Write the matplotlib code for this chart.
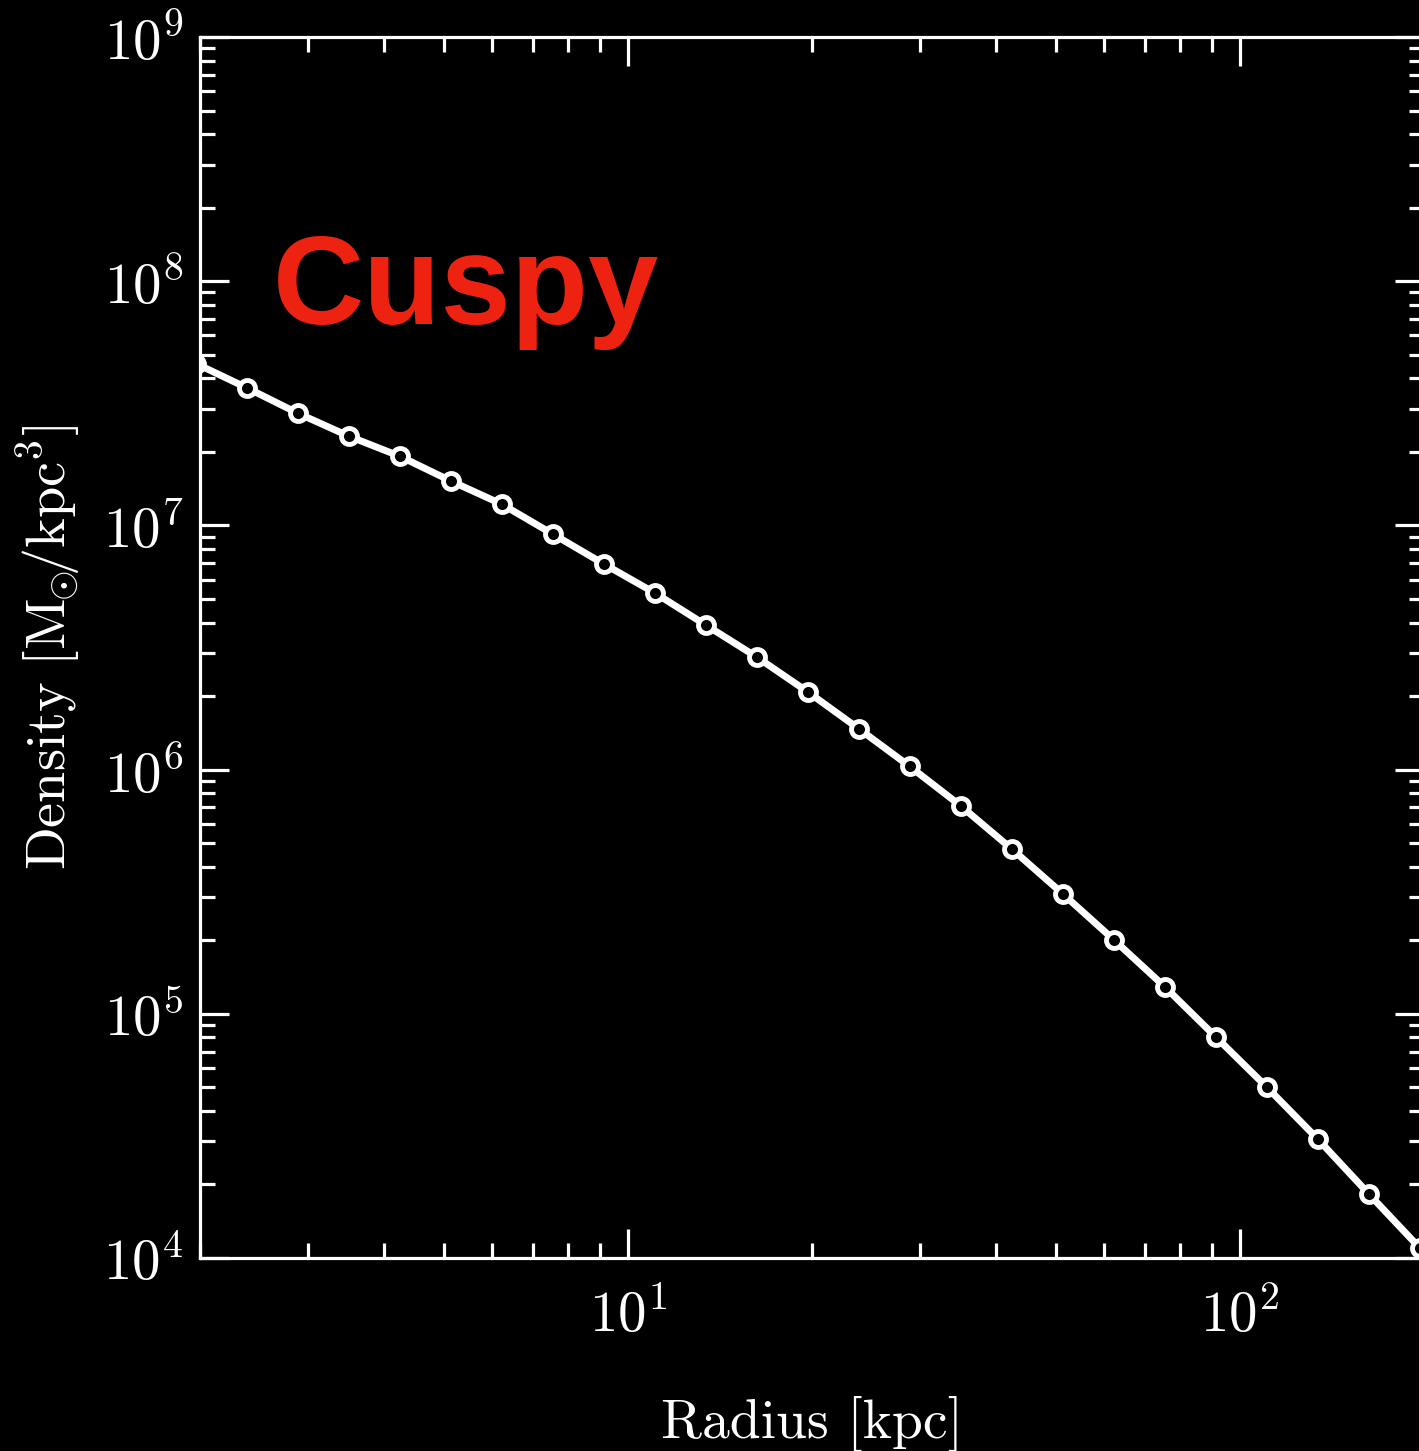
import numpy as np
import matplotlib.pyplot as plt
from matplotlib.ticker import LogLocator, NullFormatter

# perfil de densidad
radio = [1.97, 2.39, 2.89, 3.50, 4.24, 5.14, 6.23, 7.54, 9.14, 11.07, 13.41, 16.25,
         19.69, 23.85, 28.90, 35.01, 42.41, 51.38, 62.25, 75.42, 91.37, 110.7,
         134.1, 162.5, 196.8]
densidad = [4.6e7, 3.65e7, 2.88e7, 2.32e7, 1.92e7, 1.52e7, 1.22e7, 9.22e6, 6.95e6,
            5.29e6, 3.91e6, 2.89e6, 2.08e6, 1.47e6, 1.03e6, 7.10e5, 4.73e5, 3.10e5,
            2.01e5, 1.29e5, 8.04e4, 5.01e4, 3.07e4, 1.83e4, 1.10e4]

xlim = (2, 200)
ylim = (1e4, 1e9)
etiqueta = 'Cuspy'

plt.rcParams['font.family'] = 'serif'
plt.rcParams['font.serif'] = ['cmr10']
plt.rcParams['mathtext.fontset'] = 'cm'
plt.rcParams['axes.formatter.use_mathtext'] = True
plt.rcParams['axes.unicode_minus'] = False

fig = plt.figure(figsize=(14.19, 14.51), dpi=100, facecolor='black')
ax = fig.add_axes([200/1419, 193/1451, 1224/1419, 1221/1451], facecolor='black')

ax.plot(radio, densidad, '-o', color='white', lw=5, ms=11.5,
        mfc='black', mec='white', mew=3.5)

ax.set_xscale('log')
ax.set_yscale('log')
ax.set_xlim(xlim)
ax.set_ylim(ylim)

ax.yaxis.set_major_locator(LogLocator(base=10, numticks=20))
ax.yaxis.set_minor_locator(LogLocator(base=10, subs=np.arange(2, 10), numticks=20))
ax.xaxis.set_minor_formatter(NullFormatter())
ax.yaxis.set_minor_formatter(NullFormatter())

for s in ax.spines.values():
    s.set_color('white')
    s.set_linewidth(2.3)

ax.tick_params(which='both', direction='in', top=True, right=True,
               colors='white', width=2.3)
ax.tick_params(which='major', length=21, labelsize=41)
ax.tick_params(which='minor', length=10.8)
ax.tick_params(axis='x', which='major', pad=22)
ax.tick_params(axis='y', which='major', pad=12)

ax.set_xlabel('Radius [kpc]', fontsize=40, color='white')
ax.set_ylabel(r'$\mathrm{Density\ [M}_{\!\!\odot}\!\!\mathrm{/kpc^3]}$', fontsize=40.5, color='white')
ax.xaxis.set_label_coords(0.5, -0.113)
ax.yaxis.set_label_coords(-0.095, 0.5)

fig.text(273/1419, 1 - 324/1451, etiqueta, fontsize=91, fontweight='bold',
         family='Liberation Sans', color='#ee2210', ha='left', va='baseline')

fig.savefig('out.png', dpi=100, facecolor='black')
